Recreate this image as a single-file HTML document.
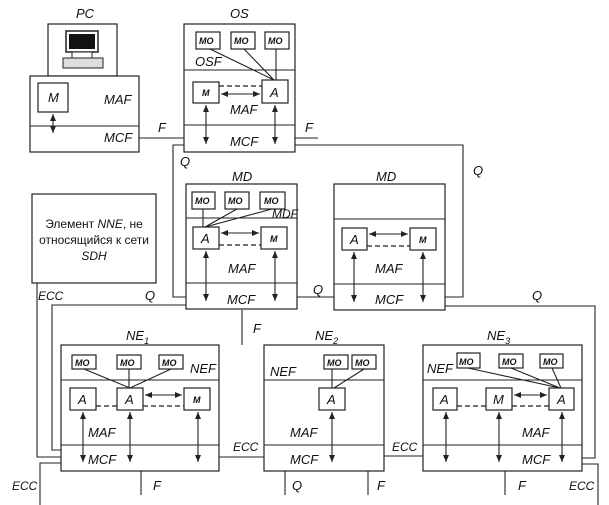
<!DOCTYPE html>
<html><head><meta charset="utf-8"><style>
html,body{margin:0;padding:0;background:#fff;}
svg{display:block;}
text{font-family:"Liberation Sans",sans-serif;font-style:italic;fill:#111;}
.b{fill:#fff;stroke:#222;stroke-width:1.2;}
.l{stroke:#222;stroke-width:1.1;fill:none;}
.d{stroke:#222;stroke-width:1.3;fill:none;stroke-dasharray:5,3;}
.mo{font-size:9px;font-weight:bold;}
.t{font-size:13px;}
</style></head><body>
<svg width="609" height="505" viewBox="0 0 609 505" xmlns="http://www.w3.org/2000/svg">
<defs>
<marker id="a" markerWidth="8" markerHeight="8" refX="7" refY="4" orient="auto-start-reverse" markerUnits="userSpaceOnUse"><path d="M0,1 L7,4 L0,7 z" fill="#222"/></marker>
</defs>
<!-- connection lines -->
<g class="l">
<path d="M139,138 H184"/>
<path d="M295,138 H318"/>
<path d="M295,145 H463 V297 H445"/>
<path d="M184,145 H173 V297 H186"/>
<path d="M297,297 H334"/>
<path d="M186,305 H52 V450 H61"/>
<path d="M37,283 V457 H61"/>
<path d="M61,463 H40 V505"/>
<path d="M242,310 V345"/>
<path d="M445,306 H595 V458 H582"/>
<path d="M582,464 H598 V505"/>
<path d="M219,457 H264"/>
<path d="M384,456 H423"/>
<path d="M141,471 V495"/><path d="M285,471 V495"/><path d="M368,471 V495"/><path d="M505,471 V495"/>
</g>
<!-- PC -->
<text class="t" x="76" y="18">PC</text>
<rect class="b" x="48" y="24" width="69" height="52"/>
<rect x="66" y="31" width="32" height="21" fill="#fff" stroke="#222" stroke-width="1.5"/>
<rect x="69" y="34" width="26" height="15" fill="#111"/>
<rect x="72" y="52" width="20" height="6" fill="#fff" stroke="#222"/>
<rect x="63" y="58" width="40" height="10" fill="#ddd" stroke="#222"/>
<rect class="b" x="30" y="76" width="109" height="76"/>
<path class="l" d="M30,126 H139"/>
<rect class="b" x="38" y="83" width="30" height="29"/>
<text class="t" x="48" y="102">M</text>
<text class="t" x="104" y="104">MAF</text>
<text class="t" x="104" y="142">MCF</text>
<path class="l" d="M53,114 V133" marker-start="url(#a)" marker-end="url(#a)"/>
<text class="t" x="158" y="132">F</text>
<!-- OS -->
<text class="t" x="230" y="18">OS</text>
<rect class="b" x="184" y="24" width="111" height="128"/>
<path class="l" d="M184,70 H295 M184,125 H295"/>
<rect class="b" x="196" y="32" width="24" height="17"/><text class="mo" x="199" y="44">MO</text>
<rect class="b" x="231" y="32" width="24" height="17"/><text class="mo" x="234" y="44">MO</text>
<rect class="b" x="265" y="32" width="24" height="17"/><text class="mo" x="268" y="44">MO</text>
<path class="l" d="M210,49 L274,80 M244,49 L274,80 M276,49 V80"/>
<text class="t" x="195" y="66">OSF</text>
<rect class="b" x="193" y="82" width="26" height="21"/><text class="mo" x="202" y="96">M</text>
<rect class="b" x="262" y="80" width="26" height="23"/><text class="t" x="270" y="97">A</text>
<path class="d" d="M219,86 H262"/>
<path class="l" d="M221,94 H260" marker-start="url(#a)" marker-end="url(#a)"/>
<text class="t" x="230" y="114">MAF</text>
<text class="t" x="230" y="146">MCF</text>
<path class="l" d="M206,105 V144" marker-start="url(#a)" marker-end="url(#a)"/>
<path class="l" d="M275,105 V144" marker-start="url(#a)" marker-end="url(#a)"/>
<text class="t" x="305" y="132">F</text>
<text class="t" x="180" y="166">Q</text>
<text class="t" x="473" y="175">Q</text>
<!-- NNE -->
<rect class="b" x="32" y="194" width="124" height="89"/>
<text x="94" y="228" text-anchor="middle" style="font-style:normal;font-size:12px">Элемент <tspan font-style="italic">NNE</tspan>, не</text>
<text x="94" y="244" text-anchor="middle" style="font-style:normal;font-size:12px">относящийся к сети</text>
<text x="94" y="260" text-anchor="middle" style="font-size:12px">SDH</text>
<text class="t" x="38" y="300" style="font-size:12px">ECC</text>
<text class="t" x="145" y="300">Q</text>
<text class="t" x="313" y="294">Q</text>
<text class="t" x="532" y="300">Q</text>
<!-- MD1 -->
<text class="t" x="232" y="181">MD</text>
<rect class="b" x="186" y="184" width="111" height="125"/>
<path class="l" d="M186,218 H297 M186,283 H297"/>
<rect class="b" x="192" y="192" width="23" height="17"/><text class="mo" x="195" y="204">MO</text>
<rect class="b" x="225" y="192" width="24" height="17"/><text class="mo" x="228" y="204">MO</text>
<rect class="b" x="260" y="192" width="25" height="17"/><text class="mo" x="264" y="204">MO</text>
<path class="l" d="M203,209 V227 M237,209 L205,227 M272,209 L205,227"/>
<text class="t" x="272" y="218" style="font-size:12px">MDF</text>
<rect class="b" x="193" y="227" width="26" height="22"/><text class="t" x="201" y="243">A</text>
<rect class="b" x="261" y="227" width="26" height="22"/><text class="mo" x="270" y="242">M</text>
<path class="l" d="M221,233 H259" marker-start="url(#a)" marker-end="url(#a)"/>
<path class="d" d="M219,245 H261"/>
<text class="t" x="228" y="273">MAF</text>
<text class="t" x="227" y="304">MCF</text>
<path class="l" d="M206,251 V301" marker-start="url(#a)" marker-end="url(#a)"/>
<path class="l" d="M275,251 V301" marker-start="url(#a)" marker-end="url(#a)"/>
<!-- MD2 -->
<text class="t" x="376" y="181">MD</text>
<rect class="b" x="334" y="184" width="111" height="126"/>
<path class="l" d="M334,219 H445 M334,284 H445"/>
<rect class="b" x="342" y="228" width="25" height="22"/><text class="t" x="350" y="244">A</text>
<rect class="b" x="410" y="228" width="26" height="22"/><text class="mo" x="419" y="243">M</text>
<path class="l" d="M369,234 H408" marker-start="url(#a)" marker-end="url(#a)"/>
<path class="d" d="M367,246 H410"/>
<text class="t" x="375" y="273">MAF</text>
<text class="t" x="375" y="304">MCF</text>
<path class="l" d="M354,252 V302" marker-start="url(#a)" marker-end="url(#a)"/>
<path class="l" d="M423,252 V302" marker-start="url(#a)" marker-end="url(#a)"/>
<text class="t" x="253" y="333">F</text>
<!-- NE1 -->
<text class="t" x="126" y="340">NE<tspan font-size="9" dy="4">1</tspan></text>
<rect class="b" x="61" y="345" width="158" height="126"/>
<path class="l" d="M61,380 H219 M61,445 H219"/>
<rect class="b" x="72" y="355" width="24" height="14"/><text class="mo" x="75" y="366">MO</text>
<rect class="b" x="117" y="355" width="24" height="14"/><text class="mo" x="120" y="366">MO</text>
<rect class="b" x="159" y="355" width="24" height="14"/><text class="mo" x="162" y="366">MO</text>
<path class="l" d="M84,369 L130,388 M129,369 V388 M171,369 L130,388"/>
<text class="t" x="190" y="373">NEF</text>
<rect class="b" x="70" y="388" width="26" height="22"/><text class="t" x="78" y="404">A</text>
<rect class="b" x="117" y="388" width="26" height="22"/><text class="t" x="125" y="404">A</text>
<rect class="b" x="184" y="388" width="26" height="22"/><text class="mo" x="193" y="403">M</text>
<path class="l" d="M145,395 H182" marker-start="url(#a)" marker-end="url(#a)"/>
<path class="d" d="M96,406 H117 M143,406 H184"/>
<text class="t" x="88" y="437">MAF</text>
<text class="t" x="88" y="464">MCF</text>
<path class="l" d="M83,412 V462" marker-start="url(#a)" marker-end="url(#a)"/>
<path class="l" d="M130,412 V462" marker-start="url(#a)" marker-end="url(#a)"/>
<path class="l" d="M198,412 V462" marker-start="url(#a)" marker-end="url(#a)"/>
<!-- NE2 -->
<text class="t" x="315" y="340">NE<tspan font-size="9" dy="4">2</tspan></text>
<rect class="b" x="264" y="345" width="120" height="126"/>
<path class="l" d="M264,380 H384 M264,445 H384"/>
<rect class="b" x="324" y="355" width="24" height="14"/><text class="mo" x="327" y="366">MO</text>
<rect class="b" x="352" y="355" width="24" height="14"/><text class="mo" x="355" y="366">MO</text>
<path class="l" d="M332,369 V388 M364,369 L334,388"/>
<text class="t" x="270" y="376">NEF</text>
<rect class="b" x="319" y="388" width="26" height="22"/><text class="t" x="327" y="404">A</text>
<text class="t" x="290" y="437">MAF</text>
<text class="t" x="290" y="464">MCF</text>
<path class="l" d="M332,412 V462" marker-start="url(#a)" marker-end="url(#a)"/>
<text class="t" x="233" y="451" style="font-size:12px">ECC</text>
<text class="t" x="392" y="451" style="font-size:12px">ECC</text>
<!-- NE3 -->
<text class="t" x="487" y="340">NE<tspan font-size="9" dy="4">3</tspan></text>
<rect class="b" x="423" y="345" width="159" height="126"/>
<path class="l" d="M423,380 H582 M423,445 H582"/>
<rect class="b" x="457" y="353" width="23" height="15"/><text class="mo" x="459" y="365">MO</text>
<rect class="b" x="499" y="354" width="24" height="14"/><text class="mo" x="502" y="365">MO</text>
<rect class="b" x="540" y="354" width="23" height="14"/><text class="mo" x="543" y="365">MO</text>
<path class="l" d="M468,368 L560,388 M511,368 L560,388 M552,368 L561,388"/>
<text class="t" x="427" y="373">NEF</text>
<rect class="b" x="433" y="388" width="24" height="22"/><text class="t" x="440" y="404">A</text>
<rect class="b" x="486" y="388" width="26" height="22"/><text class="t" x="493" y="404">M</text>
<rect class="b" x="549" y="388" width="25" height="22"/><text class="t" x="557" y="404">A</text>
<path class="l" d="M514,395 H547" marker-start="url(#a)" marker-end="url(#a)"/>
<path class="d" d="M457,406 H486 M512,406 H549"/>
<text class="t" x="522" y="437">MAF</text>
<text class="t" x="522" y="464">MCF</text>
<path class="l" d="M446,412 V462" marker-start="url(#a)" marker-end="url(#a)"/>
<path class="l" d="M499,412 V462" marker-start="url(#a)" marker-end="url(#a)"/>
<path class="l" d="M562,412 V462" marker-start="url(#a)" marker-end="url(#a)"/>
<!-- bottom labels -->
<text class="t" x="12" y="490" style="font-size:12px">ECC</text>
<text class="t" x="153" y="490">F</text>
<text class="t" x="292" y="490">Q</text>
<text class="t" x="377" y="490">F</text>
<text class="t" x="518" y="490">F</text>
<text class="t" x="569" y="490" style="font-size:12px">ECC</text>
</svg>
</body></html>
